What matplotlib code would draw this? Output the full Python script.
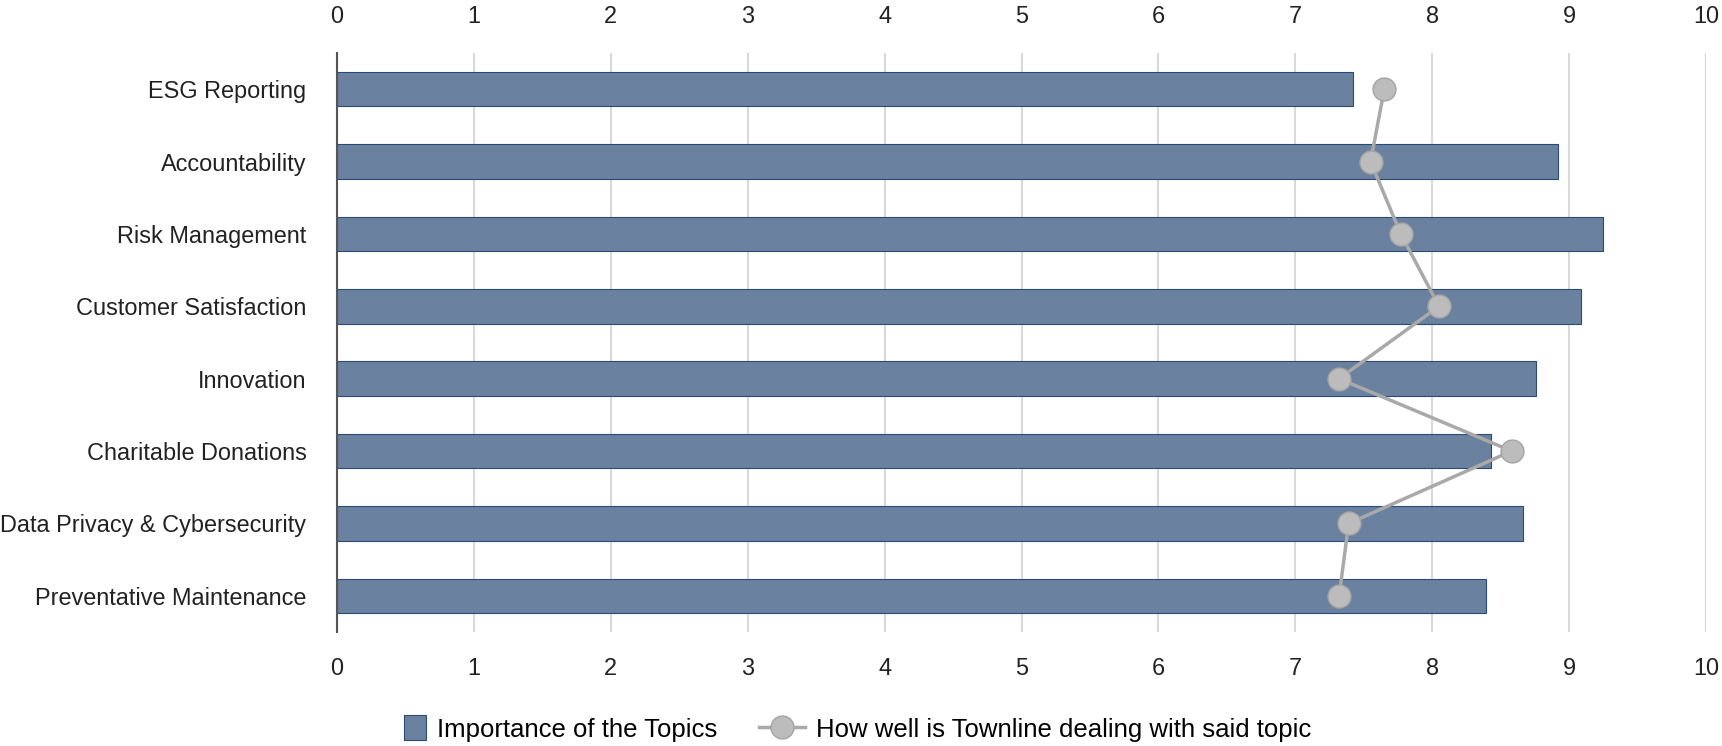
import matplotlib
matplotlib.use("Agg")
import matplotlib.pyplot as plt
from matplotlib.patches import Patch, Rectangle
from matplotlib.lines import Line2D
from matplotlib.legend_handler import HandlerPatch

categories = ["ESG Reporting", "Accountability", "Risk Management", "Customer Satisfaction",
              "Innovation", "Charitable Donations", "Data Privacy & Cybersecurity",
              "Preventative Maintenance"]
importance = [7.42, 8.92, 9.25, 9.09, 8.76, 8.43, 8.66, 8.39]
performance = [7.65, 7.55, 7.77, 8.05, 7.32, 8.58, 7.39, 7.32]
xticks = [0, 1, 2, 3, 4, 5, 6, 7, 8, 9, 10]

plt.rcParams['font.family'] = ['Liberation Sans', 'DejaVu Sans']
FS = 16.9
LFS = 18.5

fig = plt.figure(figsize=(17.22, 7.46), dpi=100)
ax = fig.add_axes([337/1722, 1-632/746, (1706-337)/1722, (632-53)/746])

y = list(range(len(categories)))
ax.barh(y, importance, height=0.476, color="#6a819f", edgecolor="#2c4a78",
        linewidth=0.8, zorder=2, label="Importance of the Topics")
ax.plot(performance, y, color="#a9a9a9", linewidth=2.5, marker="o", markersize=16.5,
        markerfacecolor="#bcbcbc", markeredgecolor="#a5a5a5", markeredgewidth=1.0,
        zorder=3, label="How well is Townline dealing with said topic")

ax.set_xlim(0, 10)
ax.set_ylim(len(categories) - 0.5, -0.5)
ax.set_yticks(y)
ax.set_yticklabels(categories, fontsize=FS, color="#222222")
ax.set_xticks(xticks)
ax.set_xticklabels([str(t) for t in xticks], fontsize=FS, color="#222222")
ax.tick_params(axis="x", length=0, pad=18, labeltop=True, top=False)
ax.tick_params(axis="y", length=0, pad=22)

ax.grid(axis="x", color="#d9d9d9", linewidth=1.5, zorder=0)
ax.set_axisbelow(True)
for s in ["top", "right", "bottom"]:
    ax.spines[s].set_visible(False)
ax.spines["left"].set_color("#555555")
ax.spines["left"].set_linewidth(1.5)
ax.spines["left"].set_zorder(4)


def square_patch(legend, orig_handle, xdescent, ydescent, width, height, fontsize):
    w = height * 0.95
    h = height * 1.08
    return Rectangle((width - w - xdescent, -ydescent + (height - h) / 2), w, h)


handles = [Patch(facecolor="#6a819f", edgecolor="#2c4a78", linewidth=0.8),
           Line2D([0], [0], color="#a9a9a9", linewidth=2.5, marker="o", markersize=16.5,
                  markerfacecolor="#bcbcbc", markeredgecolor="#a5a5a5")]
fig.legend(handles, ["Importance of the Topics", "How well is Townline dealing with said topic"],
           loc="center", bbox_to_anchor=(0.491, 1-729/746), ncol=2, frameon=False,
           fontsize=LFS, handlelength=1.8, handleheight=1.0, columnspacing=1.6,
           handletextpad=0.45,
           handler_map={Patch: HandlerPatch(patch_func=square_patch)})

fig.savefig("out.png", dpi=100)
